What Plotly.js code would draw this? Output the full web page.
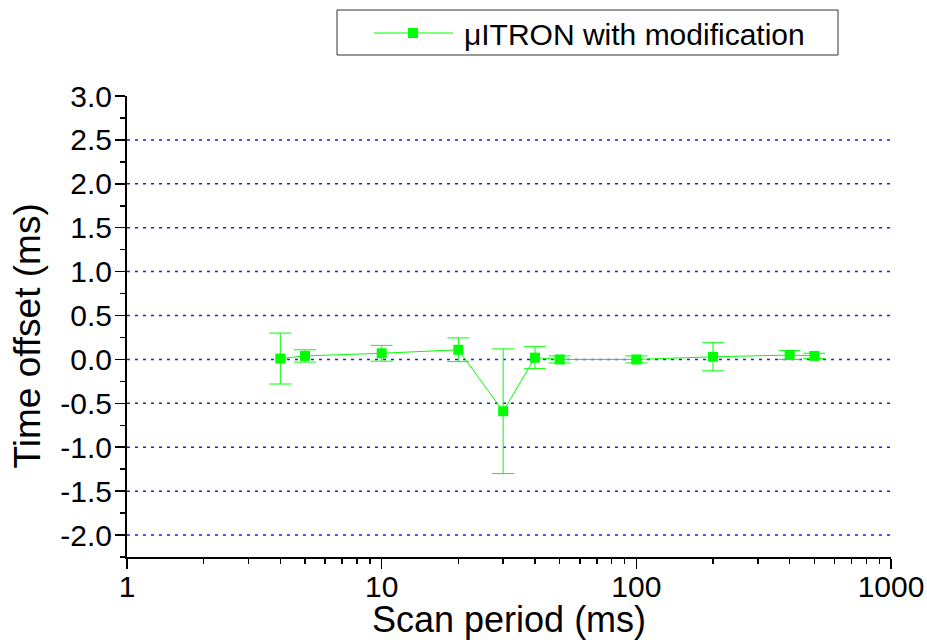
<!DOCTYPE html>
<html>
<head>
<meta charset="utf-8">
<script src="https://cdn.plot.ly/plotly-3.0.1.min.js"></script>
<style>html,body{margin:0;padding:0;background:#fff;}#chart{width:927px;height:640px;}</style>
</head>
<body>
<div id="chart"></div>
<script>
// Data
const scanPeriod = [4, 5, 10, 20, 30, 40, 50, 100, 200, 400, 500];
const timeOffset = [0.01, 0.04, 0.07, 0.11, -0.59, 0.02, 0.00, 0.00, 0.03, 0.05, 0.04];
const offsetErr  = [0.29, 0.07, 0.09, 0.135, 0.71, 0.125, 0.04, 0.04, 0.16, 0.05, 0.03];
const seriesName = "μITRON with modification";

const yTickVals   = [-2.0, -1.5, -1.0, -0.5, 0.0, 0.5, 1.0, 1.5, 2.0, 2.5, 3.0];
const yTickLabels = ["-2.0", "-1.5", "-1.0", "-0.5", "0.0", "0.5", "1.0", "1.5", "2.0", "2.5", "3.0"];
const yGridVals   = [-2.0, -1.5, -1.0, -0.5, 0.0, 0.5, 1.0, 1.5, 2.0, 2.5];
const xTickVals   = [1, 10, 100, 1000];
const xTickLabels = ["1", "10", "100", "1000"];
const xTitle = "Scan period (ms)";
const yTitle = "Time offset (ms)";

const GREEN = "#00ff00";
const FONT = "Liberation Sans, Arial, sans-serif";
const Y_RANGE = [-2.25, 3.0];

const trace = {
  x: scanPeriod,
  y: timeOffset,
  type: "scatter",
  mode: "lines+markers",
  name: seriesName,
  line: {color: GREEN, width: 1},
  marker: {symbol: "square", size: 10, color: GREEN},
  error_y: {type: "data", array: offsetErr, visible: true, color: GREEN, thickness: 1, width: 11},
  showlegend: false
};

// dotted horizontal grid lines (value axis)
const shapes = yGridVals.map(v => ({
  type: "line", xref: "paper", yref: "y", x0: 0, x1: 1, y0: v, y1: v,
  line: {color: "#1a1aff", width: 1.5, dash: "3px,5px"}, layer: "below"
}));

// manual legend (box, line sample, marker sample)
const L = 127, W = 764, T = 96, H = 461;
const px = x => (x - L) / W;
const py = y => (T + H - y) / H;
shapes.push({type: "rect", xref: "paper", yref: "paper", x0: px(337), x1: px(838), y0: py(55), y1: py(10),
  line: {color: "#333333", width: 1}, fillcolor: "rgba(0,0,0,0)"});
shapes.push({type: "line", xref: "paper", yref: "paper", x0: px(374), x1: px(453), y0: py(33), y1: py(33),
  line: {color: GREEN, width: 1}});
shapes.push({type: "rect", xref: "paper", yref: "paper", x0: px(408), x1: px(418), y0: py(38), y1: py(28),
  line: {width: 0}, fillcolor: GREEN});

const layout = {
  width: 927, height: 640,
  margin: {l: L, r: 927 - L - W, t: T, b: 640 - T - H},
  paper_bgcolor: "#fff", plot_bgcolor: "#fff",
  font: {family: FONT, color: "#000", size: 30},
  showlegend: false,
  xaxis: {
    type: "log", range: [0, 3],
    tickmode: "array", tickvals: xTickVals, ticktext: xTickLabels,
    ticks: "outside", ticklen: 10, tickwidth: 1.5, tickcolor: "#000",
    minor: {ticks: "outside", ticklen: 5, tickwidth: 1.5, tickcolor: "#000", dtick: "D1", showgrid: false},
    showline: true, linecolor: "#000", linewidth: 2,
    showgrid: false, zeroline: false,
    ticklabelstandoff: -8,
    tickfont: {size: 30, family: FONT}
  },
  yaxis: {
    range: Y_RANGE,
    tickmode: "array", tickvals: yTickVals, ticktext: yTickLabels,
    ticks: "outside", ticklen: 10, tickwidth: 1.5, tickcolor: "#000",
    minor: {ticks: "outside", ticklen: 5, tickwidth: 1.5, tickcolor: "#000", dtick: 0.25, showgrid: false},
    showline: true, linecolor: "#000", linewidth: 2,
    showgrid: false, zeroline: false,
    ticklabelstandoff: -3,
    tickfont: {size: 30, family: FONT}
  },
  shapes: shapes,
  annotations: [
    {xref: "paper", yref: "paper", x: px(462), y: py(35), xanchor: "left", yanchor: "middle",
     text: seriesName, showarrow: false, font: {size: 30, family: FONT, color: "#000"}},
    {xref: "paper", yref: "paper", x: 0.5, y: py(619), xanchor: "center", yanchor: "middle",
     text: xTitle, showarrow: false, font: {size: 36, family: FONT, color: "#000"}},
    {xref: "paper", yref: "paper", x: px(26.5), y: py(336), xanchor: "center", yanchor: "middle",
     textangle: -90, text: yTitle, showarrow: false, font: {size: 37, family: FONT, color: "#000"}}
  ]
};

Plotly.newPlot("chart", [trace], layout, {displayModeBar: false, staticPlot: true});
</script>
</body>
</html>
